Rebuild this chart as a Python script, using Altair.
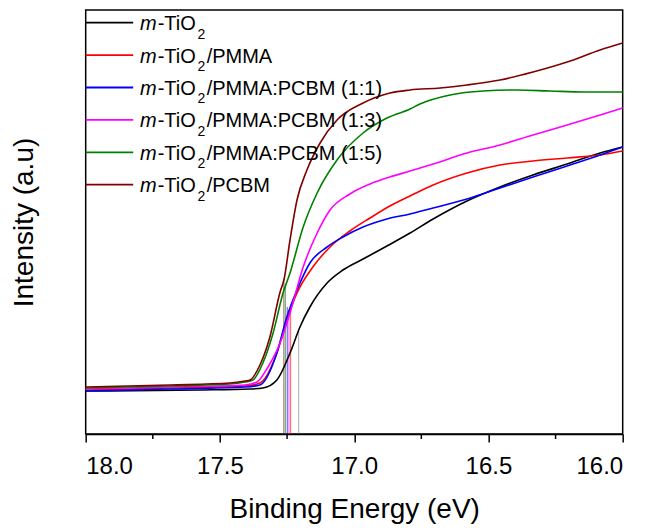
import altair as alt
import pandas as pd

FONT = "Liberation Sans"

# ---- data (x: binding energy in eV, y: intensity a.u.) ----
series = ["m-TiO2", "m-TiO2/PMMA", "m-TiO2/PMMA:PCBM (1:1)",
          "m-TiO2/PMMA:PCBM (1:3)", "m-TiO2/PMMA:PCBM (1:5)", "m-TiO2/PCBM"]
suffixes = ["", "/PMMA", "/PMMA:PCBM (1:1)", "/PMMA:PCBM (1:3)",
            "/PMMA:PCBM (1:5)", "/PCBM"]
colors = ["#000000", "#ff0000", "#0000ff", "#ff00ff", "#008000", "#800000"]

black_x = [18.0, 17.575, 17.388, 17.340, 17.288, 17.239, 17.202, 17.165, 17.101, 17.042,
           16.967, 16.878, 16.792, 16.706, 16.580, 16.457, 16.334, 16.207, 16.084, 16.0]
black_y = [43, 44, 45, 46, 54, 81, 107, 127, 151, 164,
           175, 188, 201, 215, 233, 247, 259, 270, 281, 287]

red_x = [18.0, 17.686, 17.407, 17.351, 17.288, 17.251, 17.213, 17.154, 17.090, 17.016,
         16.941, 16.867, 16.792, 16.706, 16.580, 16.457, 16.334, 16.207, 16.084, 16.0]
red_y = [44, 46, 48, 51, 81, 114, 141, 167, 187, 203,
         216, 228, 238, 249, 261, 269, 273, 276, 279, 283]

blue_x = [18.0, 17.686, 17.407, 17.351, 17.288, 17.251, 17.213, 17.165, 17.101, 17.042,
          16.967, 16.878, 16.792, 16.706, 16.580, 16.457, 16.334, 16.207, 16.084, 16.0]
blue_y = [43, 45, 47, 49, 81, 117, 144, 171, 187, 197,
          207, 215, 220, 226, 235, 246, 257, 268, 279, 287]

magenta_x = [18.0, 17.686, 17.407, 17.362, 17.321, 17.276, 17.239, 17.190, 17.138, 17.090,
             17.016, 16.941, 16.867, 16.792, 16.706, 16.580, 16.457, 16.334, 16.207, 16.084, 16.0]
magenta_y = [45, 47, 49, 52, 67, 91, 121, 167, 201, 224,
             240, 250, 257, 263, 270, 281, 289, 299, 309, 319, 326]

green_x = [18.0, 17.686, 17.463, 17.407, 17.377, 17.340, 17.302, 17.265, 17.239, 17.190,
           17.138, 17.064, 16.967, 16.878, 16.792, 16.755, 16.643, 16.520, 16.394, 16.271,
           16.148, 16.0]
green_y = [46, 48, 50, 52, 54, 71, 101, 141, 161, 207,
           241, 274, 301, 316, 325, 330, 339, 343, 344, 343,
           342, 342]

brown_x = [18.0, 17.686, 17.463, 17.407, 17.388, 17.351, 17.314, 17.276, 17.261, 17.239,
           17.213, 17.176, 17.127, 17.064, 16.967, 16.867, 16.792, 16.680, 16.580, 16.457,
           16.334, 16.207, 16.084, 16.0]
brown_y = [47, 49, 51, 53, 54, 69, 97, 142, 155, 194,
           234, 264, 291, 314, 331, 341, 344, 346, 349, 354,
           362, 372, 384, 391]

# onset (threshold) marker lines: energy and height reached
onset_x = [17.207, 17.237, 17.249, 17.243, 17.256, 17.262]
onset_top = [105, 122, 127, 122, 150, 155]

major_ticks = [18.0, 17.5, 17.0, 16.5, 16.0]
minor_ticks = [17.75, 17.25, 16.75, 16.25]

# ---- chart ----
W, H = 537, 424
xs = alt.Scale(domain=[16, 18], reverse=True, nice=False, zero=False)
ys = alt.Scale(domain=[0, 424], nice=False, zero=False)
x_axis = alt.Axis(values=major_ticks, format=".1f", title="Binding Energy (eV)",
                  grid=False, tickSize=8, tickWidth=1.5, domainWidth=1.5,
                  tickColor="black", domainColor="black", labelColor="black",
                  labelFontSize=24, labelPadding=13, labelFont=FONT,
                  titleFont=FONT, titleFontSize=28, titleFontWeight="normal",
                  titleColor="black", titleX=W / 2, titleY=84,
                  titleBaseline="alphabetic", titleAlign="center")
y_axis = alt.Axis(labels=False, ticks=False, domain=False, grid=False,
                  title="Intensity (a.u)", titleFont=FONT, titleFontSize=28,
                  titleFontWeight="normal", titleColor="black",
                  titleX=-52.7, titleY=H / 2, titleAngle=270,
                  titleBaseline="alphabetic", titleAlign="center")

curves = [(black_x, black_y), (red_x, red_y), (blue_x, blue_y),
          (magenta_x, magenta_y), (green_x, green_y), (brown_x, brown_y)]

layers = []

# onset lines
for i in range(6):
    df = pd.DataFrame({"e": [onset_x[i]], "b": [0], "t": [onset_top[i]]})
    col = "#808080" if i == 0 else colors[i]
    layers.append(alt.Chart(df).mark_rule(color=col, strokeWidth=1.2, opacity=0.55).encode(
        x=alt.X("e:Q", scale=xs, axis=x_axis),
        y=alt.Y("b:Q", scale=ys, axis=y_axis),
        y2="t:Q"))

# curves
for i, (cx, cy) in enumerate(curves):
    df = pd.DataFrame({"e": cx, "v": cy, "i": list(range(len(cx)))})
    layers.append(alt.Chart(df).mark_line(color=colors[i], strokeWidth=1.6,
                                          interpolate="monotone").encode(
        x=alt.X("e:Q", scale=xs, axis=x_axis),
        y=alt.Y("v:Q", scale=ys, axis=y_axis),
        order=alt.Order("i:Q")))

# minor ticks
mdf = pd.DataFrame({"e": minor_ticks})
layers.append(alt.Chart(mdf).mark_rule(color="black", strokeWidth=1.5).encode(
    x=alt.X("e:Q", scale=xs, axis=x_axis),
    y=alt.value(H), y2=alt.value(H + 5)))

# legend (drawn inside the plot, top-left)
one = pd.DataFrame({"k": [0]})
row_y = [12.7, 45.1, 77.5, 109.9, 142.3, 174.7]
for i in range(6):
    ly = row_y[i]
    layers.append(alt.Chart(one).mark_rule(color=colors[i], strokeWidth=1.8).encode(
        x=alt.value(0), x2=alt.value(47.5), y=alt.value(ly)))
    layers.append(alt.Chart(one).mark_text(align="left", baseline="alphabetic",
                                           font=FONT, fontSize=20, fontStyle="italic",
                                           fontWeight="normal", color="black").encode(
        x=alt.value(54.3), y=alt.value(ly + 7.5), text=alt.value("m")))
    layers.append(alt.Chart(one).mark_text(align="left", baseline="alphabetic",
                                           font=FONT, fontSize=20, fontWeight="normal",
                                           color="black").encode(
        x=alt.value(72), y=alt.value(ly + 7.5), text=alt.value("-TiO")))
    layers.append(alt.Chart(one).mark_text(align="left", baseline="alphabetic",
                                           font=FONT, fontSize=14, fontWeight="normal",
                                           color="black").encode(
        x=alt.value(111.8), y=alt.value(ly + 15.8), text=alt.value("2")))
    if suffixes[i]:
        layers.append(alt.Chart(one).mark_text(align="left", baseline="alphabetic",
                                               font=FONT, fontSize=20, fontWeight="normal",
                                               color="black").encode(
            x=alt.value(121), y=alt.value(ly + 7.5), text=alt.value(suffixes[i])))

chart = alt.layer(*layers).properties(
    width=W, height=H,
    autosize=alt.AutoSizeParams(type="none"),
    padding={"left": 77.7, "top": 2, "right": 21, "bottom": 90},
    background="white",
).configure_view(stroke="black", strokeWidth=1.5)

chart.save("out.html", embed_options={"renderer": "svg", "actions": False})
